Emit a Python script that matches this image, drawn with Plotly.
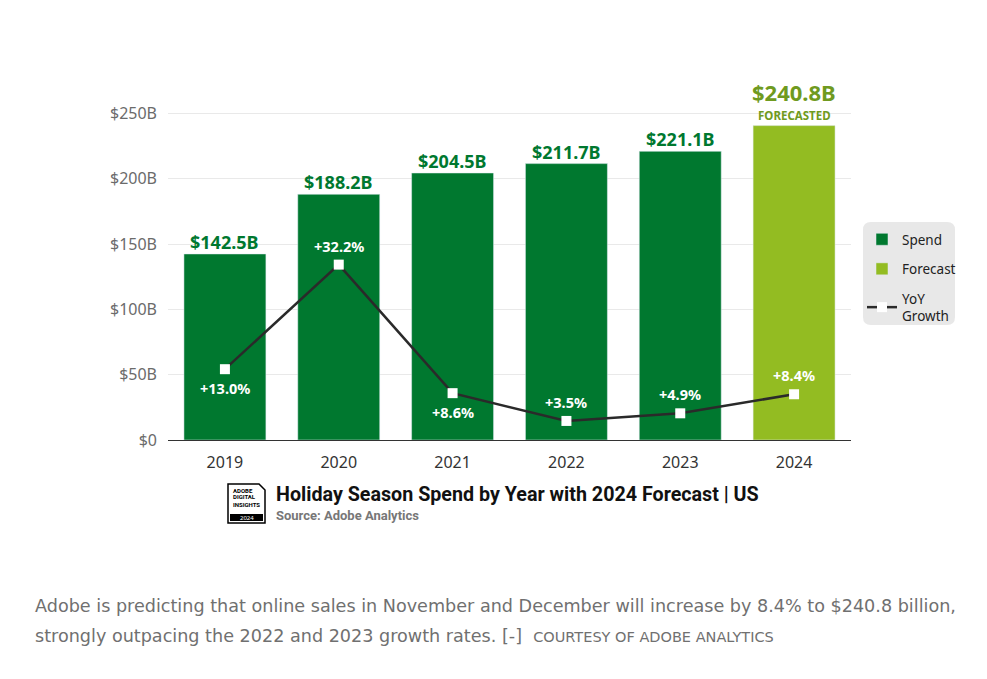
import plotly.graph_objects as go

# ---- data ----
years = ["2019", "2020", "2021", "2022", "2023", "2024"]
spend = [142.5, 188.2, 204.5, 211.7, 221.1]          # $B actual
forecast = [240.8]                                   # $B forecast 2024
growth = [13.0, 32.2, 8.6, 3.5, 4.9, 8.4]            # YoY %
value_labels = ["$142.5B", "$188.2B", "$204.5B", "$211.7B", "$221.1B", "$240.8B"]
growth_labels = ["+13.0%", "+32.2%", "+8.6%", "+3.5%", "+4.9%", "+8.4%"]
growth_below = [True, False, True, False, False, False]
ytick_vals = [0, 50, 100, 150, 200, 250]
ytick_text = ["$0", "$50B", "$100B", "$150B", "$200B", "$250B"]

DARK = "#00782F"
LIGHT = "#93BC22"
OLIVE = "#6F9A20"
FONT = "Noto Sans"

W, H = 987, 679
L, R, T, B = 168, 136, 111, 239
PW, PH = W - L - R, H - T - B

def px(x):
    return (x - L) / PW

def py(y):
    return (H - B - y) / PH

fig = go.Figure()
fig.add_trace(go.Bar(x=years[:5], y=spend, name="Spend", marker_color=DARK,
                     legendgroup="a", hoverinfo="skip"))
fig.add_trace(go.Bar(x=years[5:], y=forecast, name="Forecast", marker_color=LIGHT,
                     legendgroup="b", hoverinfo="skip"))
fig.add_trace(go.Scatter(x=years, y=growth, name="YoY<br>Growth", yaxis="y2",
                         mode="lines+markers", legendgroup="c",
                         line=dict(color="#2a2a2a", width=2.5),
                         marker=dict(symbol="square", size=10, color="white",
                                     line=dict(color="#2a2a2a", width=0)),
                         cliponaxis=False, hoverinfo="skip"))

# growth labels
for i, (g, lab, below) in enumerate(zip(growth, growth_labels, growth_below)):
    fig.add_annotation(x=i, y=g, yref="y2", text="<b>" + lab + "</b>", showarrow=False,
                       yanchor="middle", yshift=-19 if below else 19,
                       font=dict(family=FONT, size=14.5, color="white"))

# value labels above bars
all_vals = spend + forecast
for i, (v, lab) in enumerate(zip(all_vals, value_labels)):
    if i < 5:
        fig.add_annotation(x=i, y=v, text="<b>" + lab + "</b>", showarrow=False,
                           yanchor="middle", yshift=12,
                           font=dict(family=FONT, size=18, color=DARK))
    else:
        fig.add_annotation(x=i, y=v, text="<b>FORECASTED</b>", showarrow=False,
                           yanchor="middle", yshift=10,
                           font=dict(family=FONT, size=11.5, color=OLIVE))
        fig.add_annotation(x=i, y=v, text="<b>" + lab + "</b>", showarrow=False,
                           yanchor="middle", yshift=34,
                           font=dict(family=FONT, size=22, color=OLIVE))

# legend rounded background
x0, x1, y0, y1, r = px(863), px(955), py(222), py(325), 8
rx, ry = r / PW, r / PH
path = (f"M {x0+rx},{y0} L {x1-rx},{y0} Q {x1},{y0} {x1},{y0-ry} "
        f"L {x1},{y1+ry} Q {x1},{y1} {x1-rx},{y1} L {x0+rx},{y1} "
        f"Q {x0},{y1} {x0},{y1+ry} L {x0},{y0-ry} Q {x0},{y0} {x0+rx},{y0} Z")
fig.add_shape(type="path", path=path, xref="paper", yref="paper",
              fillcolor="#E8E8E8", line=dict(width=0), layer="below")

# title block with badge
fig.add_shape(type="path", xref="paper", yref="paper",
              path=(f"M {px(228)},{py(484)} L {px(259)},{py(484)} L {px(265)},{py(490)} "
                    f"L {px(265)},{py(523)} L {px(228)},{py(523)} Z"),
              fillcolor="white", line=dict(color="black", width=1.5))
fig.add_shape(type="rect", xref="paper", yref="paper",
              x0=px(230), x1=px(263), y0=py(521), y1=py(514),
              fillcolor="black", line=dict(width=0))
for txt, yy in [("ADOBE", 490), ("DIGITAL", 497), ("INSIGHTS", 504)]:
    fig.add_annotation(xref="paper", yref="paper", x=px(231), y=py(yy), text="<b>" + txt + "</b>",
                       showarrow=False, xanchor="left", yanchor="middle",
                       font=dict(family="Liberation Sans Narrow, Roboto", size=6, color="black"))
fig.add_annotation(xref="paper", yref="paper", x=px(246.5), y=py(517.5), text="2024",
                   showarrow=False, xanchor="center", yanchor="middle",
                   font=dict(family=FONT, size=6, color="white"))
fig.add_annotation(xref="paper", yref="paper", x=px(274), y=py(494),
                   text="<b>Holiday Season Spend by Year with 2024 Forecast | US</b>",
                   showarrow=False, xanchor="left", yanchor="middle",
                   font=dict(family="Roboto", size=19.7, color="#111111"))
fig.add_annotation(xref="paper", yref="paper", x=px(274), y=py(515),
                   text="<b>Source: Adobe Analytics</b>",
                   showarrow=False, xanchor="left", yanchor="middle",
                   font=dict(family="Roboto", size=13, color="#777777"))

# caption
CAP = "DejaVu Sans"
fig.add_annotation(xref="paper", yref="paper", x=px(33), y=py(606),
                   text="Adobe is predicting that online sales in November and December will increase by 8.4% to $240.8 billion,",
                   showarrow=False, xanchor="left", yanchor="middle",
                   font=dict(family=CAP, size=17.6, color="#707070"))
fig.add_annotation(xref="paper", yref="paper", x=px(33), y=py(636),
                   text="strongly outpacing the 2022 and 2023 growth rates. [-]  <span style='font-size:14.5px'>COURTESY OF ADOBE ANALYTICS</span>",
                   showarrow=False, xanchor="left", yanchor="middle",
                   font=dict(family=CAP, size=17.6, color="#707070"))

fig.update_layout(
    width=W, height=H,
    margin=dict(l=L, r=R, t=T, b=B),
    paper_bgcolor="white", plot_bgcolor="white",
    barmode="overlay", bargap=0.28,
    font=dict(family=FONT),
    showlegend=True,
    legend=dict(x=px(862), y=py(224), xanchor="left", yanchor="top",
                bgcolor="rgba(0,0,0,0)", font=dict(family=FONT, size=13.5, color="#222222"),
                itemwidth=30, tracegroupgap=9, traceorder="grouped"),
    xaxis=dict(type="category", range=[-0.5, 5.5], showgrid=False,
               showline=True, linecolor="#333333", linewidth=1.2,
               ticks="", tickfont=dict(family=FONT, size=16, color="#333333"),
               ticklabelstandoff=8, fixedrange=True),
    yaxis=dict(range=[0, 252], tickvals=ytick_vals, ticktext=ytick_text,
               showgrid=True, gridcolor="#E9E9E9", gridwidth=1,
               zeroline=False, showline=False, ticks="",
               tickfont=dict(family=FONT, size=16, color="#6b6b6b"),
               ticklabelstandoff=10, fixedrange=True),
    yaxis2=dict(range=[0, 60.4], overlaying="y", side="right", visible=False,
                fixedrange=True),
)

fig.write_html("out.html")
